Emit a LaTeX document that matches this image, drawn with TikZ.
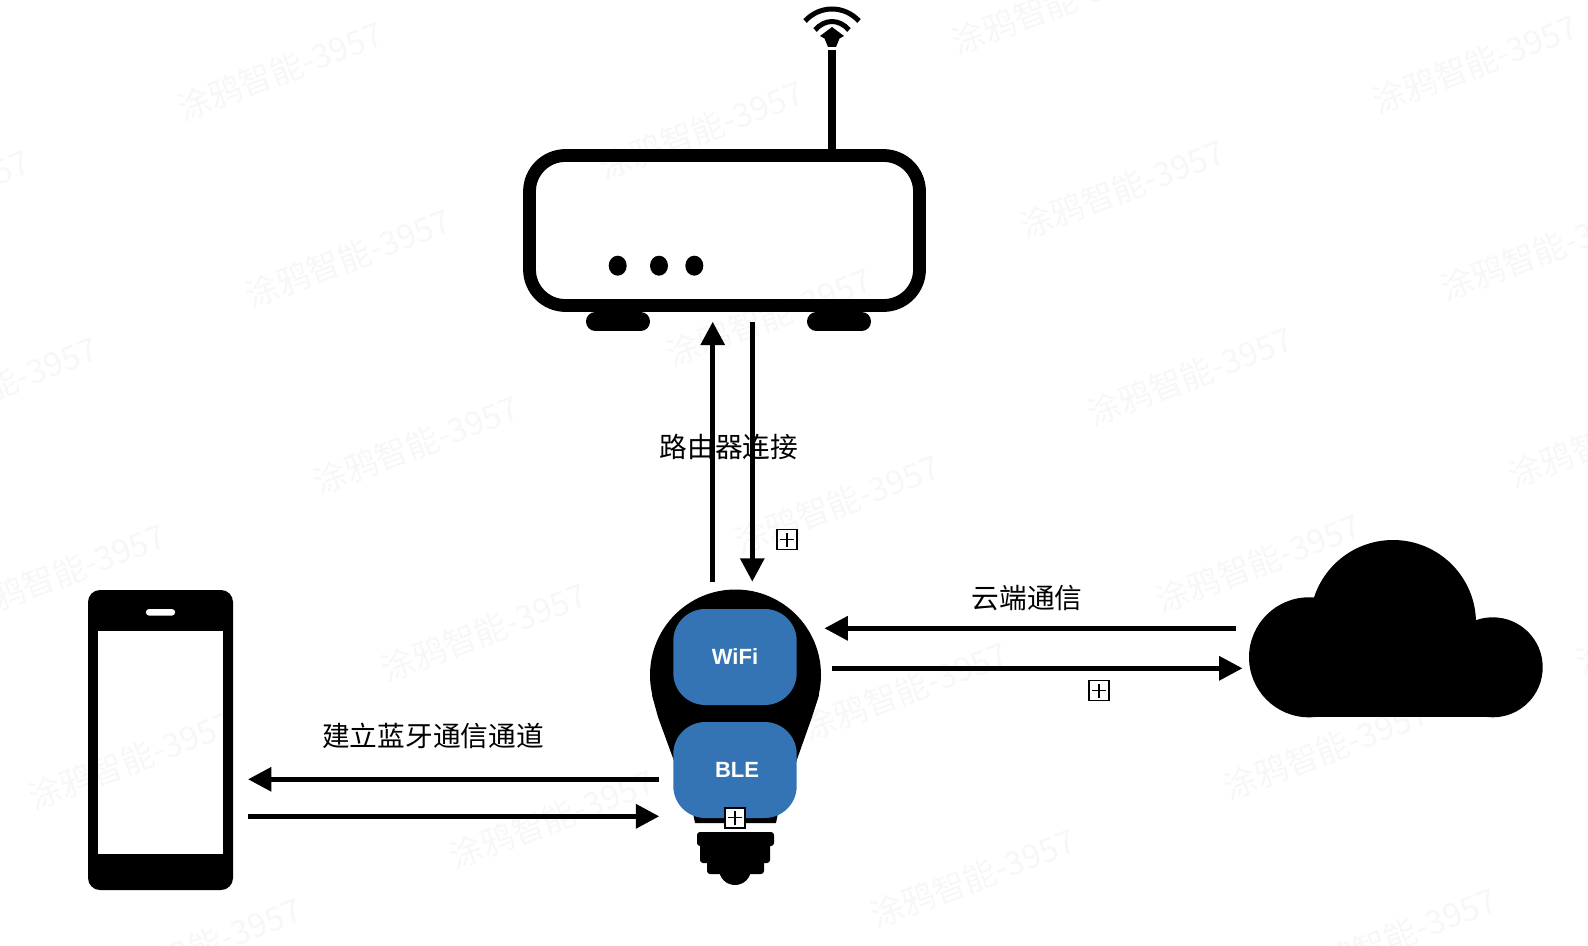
\documentclass[tikz,border=0pt]{standalone}
\usepackage{fontspec}
\setmainfont{Liberation Sans}
\newfontfamily\cjkfont{Noto Sans CJK SC}
\usetikzlibrary{arrows.meta,positioning}
\definecolor{azulchip}{HTML}{3474B5}
\begin{document}
\begin{tikzpicture}[
    x=0.5pt, y=-0.5pt,
    marca/.style={text=black, text opacity=0.03, font=\cjkfont\fontsize{16.5}{19}\selectfont, rotate=21, inner sep=0pt},
    etiqueta/.style={font=\cjkfont\fontsize{13.85}{16}\selectfont, inner sep=0pt},
    chip/.style={fill=azulchip, rounded corners=16pt, minimum width=61.7pt, minimum height=48pt,
      text=white, font=\bfseries\fontsize{11}{13}\selectfont, inner sep=0pt},
    caja/.style={draw=black, line width=6.4pt, rounded corners=18pt, minimum width=195pt,
      minimum height=75pt, inner sep=0pt},
    pata/.style={fill=black, rounded corners=4.7pt, minimum width=32pt, minimum height=9.5pt, inner sep=0pt},
    movil/.style={fill=black, rounded corners=6pt, minimum width=72.5pt, minimum height=150pt, inner sep=0pt},
    pantalla/.style={fill=white, minimum width=62.5pt, minimum height=111.7pt, inner sep=0pt},
    altavoz/.style={fill=white, rounded corners=1.6pt, minimum width=14.6pt, minimum height=3.3pt, inner sep=0pt},
    plusbox/.style={draw=black, fill=white, line width=.7pt, minimum size=10pt, inner sep=0pt,
      path picture={
        \draw[line width=.6pt] ([yshift=-1.6pt]path picture bounding box.north) -- ([yshift=1.6pt]path picture bounding box.south);
        \draw[line width=.6pt] ([xshift=1.6pt]path picture bounding box.west) -- ([xshift=-1.6pt]path picture bounding box.east);
      }},
    flecha/.style={-{Triangle[length=11.7pt,width=11.7pt]}, line width=2.5pt, draw=black}
  ]
    \useasboundingbox (0,0) rectangle (1588,946);

    \draw[line width=4.2pt] (832,50) -- (832,150);
    \draw[line width=2.5pt] (805,21) .. controls (820,5) and (844,5) .. (859,21);
    \draw[line width=2.5pt] (815,30) .. controls (825,18.7) and (839,18.7) .. (849,30);
    \fill (832,27) -- (844,36) -- (839.5,38.5) -- (836,47) -- (828,47) -- (824.5,38.5) -- (820,36) -- cycle;
    \node[caja] (router) at (724.5,230.5) {};
    \node[pata] (pataizq) at (618,321.5) {};
    \node[pata] (patader) at (839,321.5) {};
    \fill (617.7,265.7) ellipse (9 and 10);
    \fill (659,265.7) ellipse (9 and 10);
    \fill (694.3,265.7) ellipse (9 and 10);

    \node[movil] (phone) at (160.5,740) {};
    \node[pantalla] (screen) at (160.5,742.3) {};
    \node[altavoz] (speaker) at (160.5,612.3) {};

    \fill (735.5,675) circle (85.5);
    \fill (652,695) -- (658,717) -- (693,813) -- (695,823) -- (776,823) -- (778,813) -- (812,717) -- (819,695) -- cycle;
    \fill[rounded corners=1.5pt] (697,832) -- (774,832) -- (774,846) -- (697,846) -- cycle;
    \fill[rounded corners=1.5pt] (700,840) -- (770,840) -- (770,863) -- (700,863) -- cycle;
    \fill[rounded corners=1.5pt] (707,855) -- (764,855) -- (764,874) -- (707,874) -- cycle;
    \fill (735,869) circle (16);
    \node[chip] (wifi) at (735,657) {WiFi};
    \node[chip] (ble) at (735,770) {\hspace{2pt}BLE};
    \node[plusbox] (plusble) at (735,817.8) {};

    \fill (1309,657.3) circle (60);
    \fill (1393,623) circle (83);
    \fill (1492.7,667.3) circle (50);
    \fill (1309,640) rectangle (1492.7,717.3);

    \coordinate (routerout) at (712.7,581.7);
    \coordinate (routerin) at (712.7,321.7);
    \coordinate (bulbin) at (752.3,581.7);
    \coordinate (bulbout) at (752.3,322);
    \coordinate (cloudout) at (1236,628.3);
    \coordinate (wifiin) at (824.4,628.3);
    \coordinate (wifiout) at (832,668.3);
    \coordinate (cloudin) at (1242.5,668.3);
    \coordinate (blestart) at (659,779.3);
    \coordinate (phonein) at (248,779.3);
    \coordinate (phoneout) at (248,816.3);
    \coordinate (bleend) at (659.3,816.3);

    \draw[flecha] (routerout) -- (routerin);
    \draw[flecha] (bulbout) -- (bulbin);
    \draw[flecha] (cloudout) -- (wifiin);
    \draw[flecha] (wifiout) -- (cloudin);
    \draw[flecha] (blestart) -- (phonein);
    \draw[flecha] (phoneout) -- (bleend);

    \node[etiqueta] (labelrouter) at (729,447) {路由器连接};
    \node[etiqueta] (labelcloud) at (1027,598.5) {云端通信};
    \node[etiqueta] (labelble) at (433,736) {建立蓝牙通信通道};
    \node[plusbox] (plusrouter) at (787,539.7) {};
    \node[plusbox] (pluscloud) at (1099,690.7) {};

    \begin{scope}
      \clip (0,0) rectangle (1588,946);
      \foreach \mx/\my [count=\n] in {-73/199,-5/386,63/573,131/760,199/947,
          280/71,348/258,416/445,484/632,552/819,
          701/130,769/317,837/504,905/691,973/878,
          1054/5,1122/189,1190/376,1258/563,1326/750,1394/937,
          1475/64,1543/251,1611/438,1679/625}
        \node[marca, name=marca\n] at (\mx,\my) {涂鸦智能-3957};
    \end{scope}
  \end{tikzpicture}
\end{document}
